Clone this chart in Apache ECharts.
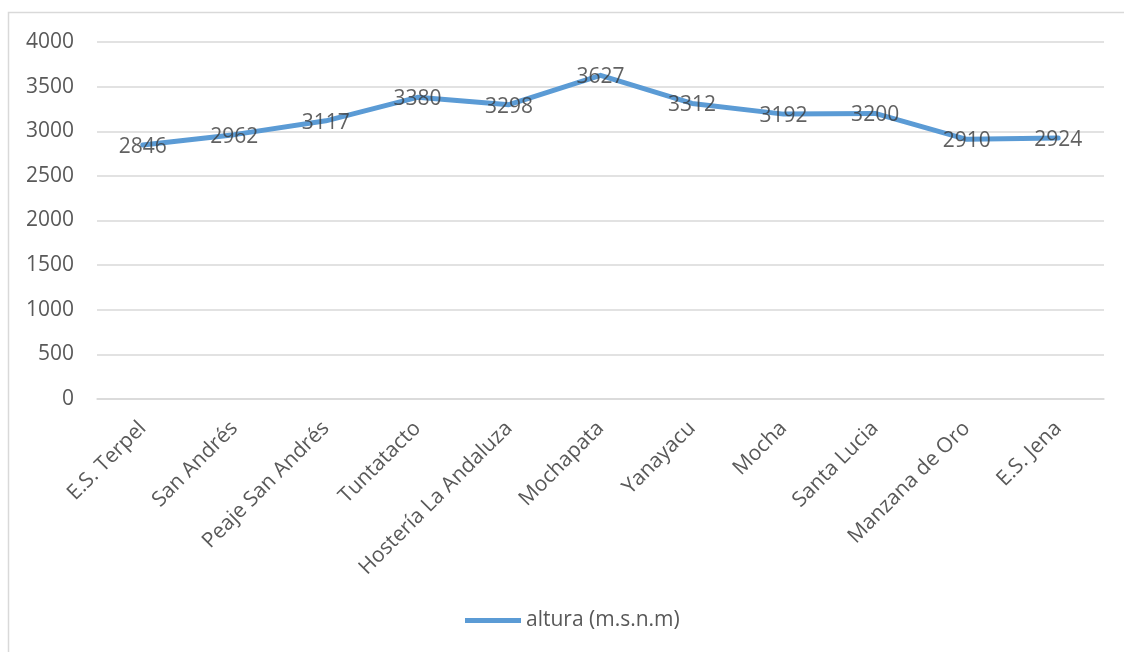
<!DOCTYPE html>
<html>
<head>
<meta charset="utf-8">
<script src="https://cdn.jsdelivr.net/npm/echarts@6/dist/echarts.min.js"></script>
<style>
  html, body { margin: 0; padding: 0; background: #fff; }
  #chart { width: 1124px; height: 652px; }
</style>
</head>
<body>
<div id="chart"></div>
<script>
// Altitude profile along the route
const categories = ['E.S. Terpel', 'San Andrés', 'Peaje San Andrés', 'Tuntatacto', 'Hostería La Andaluza',
  'Mochapata', 'Yanayacu', 'Mocha', 'Santa Lucia', 'Manzana de Oro', 'E.S. Jena'];
const altura = [2846, 2962, 3117, 3380, 3298, 3627, 3312, 3192, 3200, 2910, 2924];
const seriesName = 'altura (m.s.n.m)';

const FONT = '"Open Sans", "Noto Sans", sans-serif';
const LINE_COLOR = '#5b9bd5';
const chart = echarts.init(document.getElementById('chart'), null, { renderer: 'canvas' });

chart.setOption({
  backgroundColor: '#ffffff',
  animation: false,
  textStyle: { fontFamily: FONT },
  graphic: [{
    type: 'rect',
    shape: { x: 8.5, y: 12.5, width: 1130, height: 660 },
    style: { fill: 'none', stroke: '#d9d9d9', lineWidth: 1.5 },
    silent: true
  }],
  grid: { left: 97, right: 20, top: 42, bottom: 253, containLabel: false },
  legend: {
    bottom: 16,
    left: 460,
    itemWidth: 56,
    itemHeight: 5,
    itemGap: 4,
    textStyle: { color: '#595959', fontSize: 21, fontFamily: FONT },
    data: [{ name: seriesName, icon: 'path://M0,0 H56 V5 H0 Z', itemStyle: { color: LINE_COLOR, opacity: 1 } }]
  },
  xAxis: {
    type: 'category',
    data: categories,
    boundaryGap: true,
    axisLine: { show: true, lineStyle: { color: '#d9d9d9', width: 1.5 } },
    axisTick: { show: false },
    axisLabel: { rotate: 45, interval: 0, margin: 26, color: '#595959', fontSize: 21, fontFamily: FONT }
  },
  yAxis: {
    type: 'value',
    min: 0,
    max: 4000,
    interval: 500,
    axisLine: { show: false },
    axisTick: { show: false },
    splitLine: { lineStyle: { color: '#d9d9d9', width: 1.5 } },
    axisLabel: { margin: 23, color: '#595959', fontSize: 21, fontFamily: FONT, formatter: v => String(v) }
  },
  series: [{
    name: seriesName,
    type: 'line',
    data: altura,
    smooth: false,
    symbol: 'none',
    lineStyle: { color: LINE_COLOR, width: 5, cap: 'round', join: 'round' },
    itemStyle: { color: LINE_COLOR }
  }, {
    // value labels centred on each point of the line
    name: 'etiquetas',
    type: 'scatter',
    data: altura,
    symbolSize: 2,
    itemStyle: { color: 'rgba(0,0,0,0)' },
    z: 5,
    label: {
      show: true,
      position: 'inside',
      align: 'center',
      verticalAlign: 'middle',
      offset: [0, 2],
      color: '#3a3a3a',
      fontSize: 21,
      fontFamily: FONT
    }
  }]
});
</script>
</body>
</html>
